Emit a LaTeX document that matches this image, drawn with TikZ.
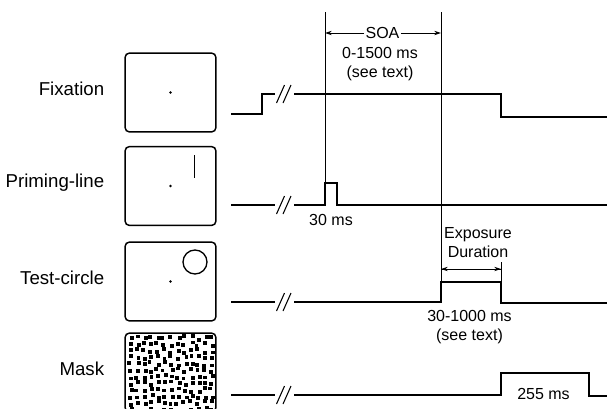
\documentclass[tikz,border=0pt]{standalone}
\usepackage{fontspec}
\setmainfont{Liberation Sans}
\usetikzlibrary{positioning,arrows.meta}

\begin{document}
\begin{tikzpicture}[x=0.75pt,y=-0.75pt,
    screen/.style={draw,line width=1.1pt,rounded corners=3pt,minimum width=68pt,minimum height=59pt,inner sep=0pt},
    rowlabel/.style={font=\fontsize{14}{16}\selectfont,inner sep=0pt,yshift=2.5pt},
    note/.style={font=\fontsize{12}{14.25}\selectfont,align=center,inner sep=1pt},
    trace/.style={line width=1.1pt},
    vline/.style={line width=0.6pt},
    tip/.style={-{Stealth[length=5pt,width=3.2pt]}}]
  \useasboundingbox (0,0) rectangle (607,408);
  % the four screens
  \node[screen] (fixbox) at (170.5,92.5) {};
  \node[screen] (primebox) at (170.5,186) {};
  \node[screen] (testbox) at (170.5,281.5) {};
  \node[screen] (maskbox) at (170.5,372.5) {};
  \node[rowlabel,left=15pt of fixbox] (fixlabel) {Fixation};
  \node[rowlabel,left=15pt of primebox] (primelabel) {Priming-line};
  \node[rowlabel,left=15pt of testbox] (testlabel) {Test-circle};
  \node[rowlabel,left=15pt of maskbox] (masklabel) {Mask};
  \foreach \b in {fixbox,primebox,testbox}{\fill (\b.center) circle (1pt);}
  \draw[line width=1pt] ([shift={(24,-31)}]primebox.center) -- ++(0,23);
  \draw[line width=1pt] ([shift={(24.5,-19.5)}]testbox.center) circle (12);
  \begin{scope}
    \clip[rounded corners=3pt] (maskbox.south west) rectangle (maskbox.north east);
    \pgfmathsetseed{11}
    \foreach \i in {0,...,12}{\foreach \j in {0,...,11}{
      \pgfmathsetmacro{\mx}{128.5+\i*6.8+2*rand}\pgfmathsetmacro{\my}{336+\j*6.5+2*rand}
      \fill (\mx,\my) rectangle ++(3.9,3.9);}}
  \end{scope}
  % time lines
  \draw[trace] (231,114) -- (262,114) -- (262,94) -- (275,94);
  \draw[trace] (294,94) -- (501,94) -- (501,117) -- (607,117);
  \draw[trace] (231,205) -- (275,205);
  \draw[trace] (294,205) -- (325,205) -- (325,183) -- (337,183) -- (337,205) -- (607,205);
  \draw[trace] (231,302) -- (275,302);
  \draw[trace] (294,302) -- (441,302) -- (441,282) -- (501,282) -- (501,303) -- (607,303);
  \draw[trace] (231,395) -- (275,395);
  \draw[trace] (294,395) -- (501,395) -- (501,373) -- (589,373) -- (589,396) -- (607,396);
  \foreach \y in {94,205,302,395}{\draw[line width=0.8pt] (276.5,\y+9) -- (284.5,\y-9) (283,\y+9) -- (291,\y-9);}
  % markers
  \coordinate (soaL) at (325,12); \coordinate (soaR) at (441,12);
  \coordinate (expL) at (441,269); \coordinate (expR) at (501,269);
  \draw[vline] (soaL) -- (325,205);
  \draw[vline] (soaR) -- (441,302);
  \draw[vline] (501,262) -- (501,282);
  \node[note] (soa) at (382.5,33) {SOA};
  \draw[vline,tip] (soa.west) -- (soaL |- soa);
  \draw[vline,tip] (soa.east) -- (soaR |- soa);
  \draw[vline,tip] (expL) -- (expR);
  \draw[vline,tip] (expR) -- (expL);
  \node[note] (soatime) at (380,64.5) {0-1500 ms\\(see text)};
  \node[note] (primedur) at (331,220) {30 ms};
  \node[note] (explabel) at (478,242.5) {Exposure\\Duration};
  \node[note] (exptime) at (469.5,327.5) {30-1000 ms\\(see text)};
  \node[note] (maskdur) at (543.5,394) {255 ms};
\end{tikzpicture}
\end{document}
